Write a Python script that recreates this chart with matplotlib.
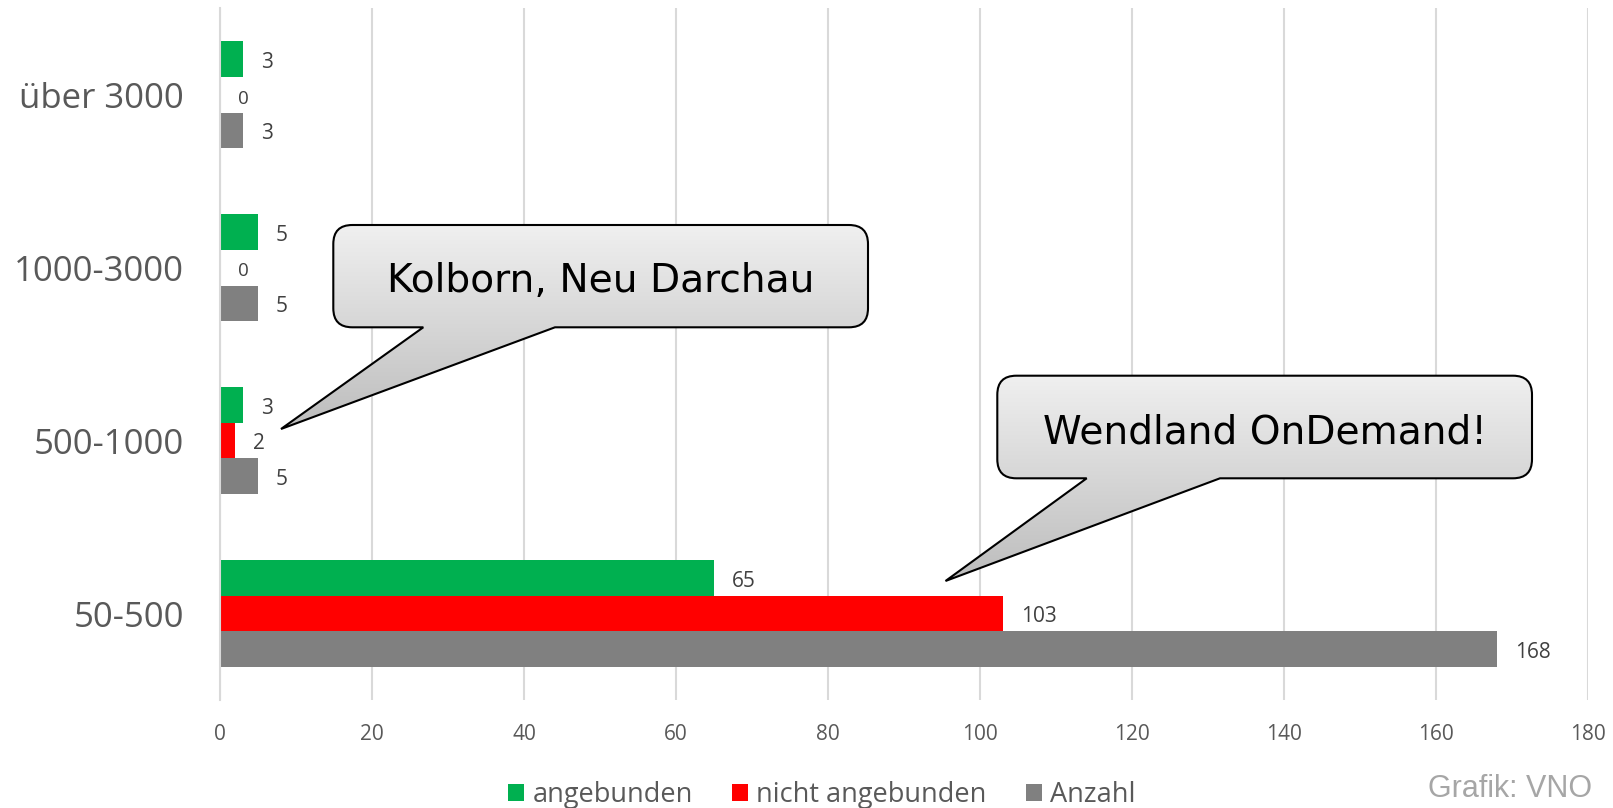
import numpy as np
import matplotlib
matplotlib.use("Agg")
import matplotlib.pyplot as plt
from matplotlib.path import Path
from matplotlib.patches import PathPatch, Patch

# data
categories = ["50-500", "500-1000", "1000-3000", "über 3000"]
angebunden = [65, 3, 5, 3]
nicht_angebunden = [103, 2, 0, 0]
anzahl = [168, 5, 5, 3]
series_names = ["angebunden", "nicht angebunden", "Anzahl"]
colors = ["#00B050", "#FF0000", "#808080"]
x_ticks = [0, 20, 40, 60, 80, 100, 120, 140, 160, 180]

W, H = 1613, 808
plt.rcParams["font.family"] = ["Open Sans", "DejaVu Sans"]

fig = plt.figure(figsize=(W / 100, H / 100), dpi=100)
ax = fig.add_axes([220 / W, 1 - 700 / H, (1588 - 220) / W, (700 - 8.4) / H])

y = np.arange(len(categories))
bh = 0.206
all_series = [angebunden, nicht_angebunden, anzahl]
offsets = [bh, 0, -bh]
for vals, off, col in zip(all_series, offsets, colors):
    ax.barh(y + off, vals, height=bh, color=col, zorder=3)
    for yi, v in zip(y, vals):
        ax.annotate(str(v), (v, yi + off), xytext=(13, -6.3), textcoords="offset points",
                    va="baseline", ha="left", fontsize=15 if v else 13.5, color="#404040")

ax.set_xlim(0, 180)
ax.set_ylim(-0.5, 3.5)
ax.set_xticks(x_ticks)
ax.set_yticks(y)
ax.set_yticklabels(categories)
ax.tick_params(axis="y", length=0, pad=26, labelsize=25, labelcolor="#595959")
ax.tick_params(axis="x", length=0, pad=17, labelsize=15, labelcolor="#595959")
ax.grid(axis="x", color="#d9d9d9", linewidth=1.5, zorder=0)
for s in ["top", "right", "bottom"]:
    ax.spines[s].set_visible(False)
ax.spines["left"].set_color("#d9d9d9")
ax.spines["left"].set_linewidth(1.5)
ax.spines["left"].set_zorder(4)

# overlay in pixel coordinates for the callouts
ov = fig.add_axes([0, 0, 1, 1], zorder=10)
ov.set_xlim(0, W)
ov.set_ylim(H, 0)
ov.axis("off")
ov.patch.set_alpha(0)


def callout(x0, y0, x1, y1, ta, tb, tip, text, base, r=19):
    verts = [(x0 + r, y0), (x1 - r, y0), (x1, y0), (x1, y0 + r),
             (x1, y1 - r), (x1, y1), (x1 - r, y1),
             (tb, y1), tip, (ta, y1),
             (x0 + r, y1), (x0, y1), (x0, y1 - r),
             (x0, y0 + r), (x0, y0), (x0 + r, y0), (x0 + r, y0)]
    codes = [Path.MOVETO, Path.LINETO, Path.CURVE3, Path.CURVE3,
             Path.LINETO, Path.CURVE3, Path.CURVE3,
             Path.LINETO, Path.LINETO, Path.LINETO,
             Path.LINETO, Path.CURVE3, Path.CURVE3,
             Path.LINETO, Path.CURVE3, Path.CURVE3, Path.CLOSEPOLY]
    path = Path(verts, codes)
    patch = PathPatch(path, facecolor="none", edgecolor="black", lw=1.5, zorder=12)
    ov.add_patch(patch)
    left = min(x0, tip[0])
    bottom = max(y1, tip[1])
    g = np.linspace(0.94, 0.74, 256)
    img = np.dstack([g, g, g]).reshape(256, 1, 3)
    im = ov.imshow(img, extent=(left, x1, bottom, y0), aspect="auto",
                   origin="upper", zorder=11, interpolation="bilinear")
    im.set_clip_path(patch)
    ov.text((x0 + x1) / 2, base, text, ha="center", va="baseline",
            fontsize=28.2, family="DejaVu Sans", color="black", zorder=13)


callout(333.3, 225, 868, 327.3, 423.3, 555, (281, 429), "Kolborn, Neu Darchau", 291.7)
callout(997.3, 375.7, 1532, 478.3, 1086.7, 1220, (945.5, 581), "Wendland OnDemand!", 443.3)
ov.set_xlim(0, W)
ov.set_ylim(H, 0)

handles = [Patch(facecolor=c, edgecolor="none") for c in colors]
fig.legend(handles, series_names, loc="center", bbox_to_anchor=(822 / W, 1 - 795 / H),
           ncol=3, frameon=False, fontsize=19.5, labelcolor="#595959",
           handlelength=0.6, handleheight=0.6, handletextpad=0.3,
           columnspacing=1.45, borderpad=0)

fig.text(1592 / W, 1 - 789 / H, "Grafik: VNO", ha="right", va="center",
         fontsize=22, family="Liberation Sans", color="#a6a6a6")

fig.savefig("out.png", dpi=100)
